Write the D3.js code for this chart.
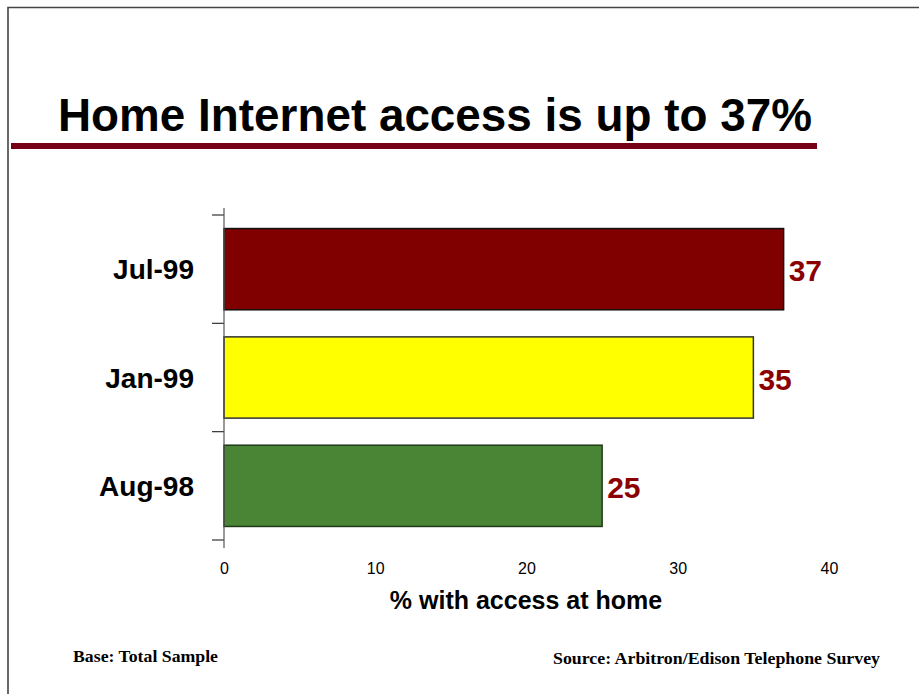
<!DOCTYPE html>
<html>
<head>
<meta charset="utf-8">
<script src="https://cdn.jsdelivr.net/npm/d3@7"></script>
<style>
  html, body { margin: 0; padding: 0; background: #fff; }
  svg { display: block; }
</style>
</head>
<body>
<svg id="chart" width="919" height="694"></svg>
<script>
// Survey periods, top to bottom as drawn
const categories = ["Jul-99", "Jan-99", "Aug-98"];
const values = [37, 35, 25];
const barColors = ["#800000", "#ffff00", "#4a8536"];
const barEdges = ["#111", "#333", "#1f3a16"];
const xTicks = [0, 10, 20, 30, 40];

const titleText = "Home Internet access is up to 37%";
const xAxisLabel = "% with access at home";
const baseNote = "Base: Total Sample";
const sourceNote = "Source: Arbitron/Edison Telephone Survey";

const sans = "Liberation Sans, Arial, sans-serif";
const serif = "Liberation Serif, Times New Roman, serif";

const svg = d3.select("#chart");

// Slide frame (top and left edges)
svg.append("path")
  .attr("d", "M8,694 V7.5 H919")
  .attr("fill", "none")
  .attr("stroke", "#444")
  .attr("stroke-width", 1.6);

// Title with its rule
svg.append("text")
  .attr("x", 58).attr("y", 131)
  .attr("font-family", sans)
  .attr("font-weight", "bold")
  .attr("font-size", 46)
  .attr("textLength", 754)
  .attr("lengthAdjust", "spacingAndGlyphs")
  .attr("fill", "#000")
  .text(titleText);

svg.append("rect")
  .attr("x", 11).attr("y", 143)
  .attr("width", 806).attr("height", 6)
  .attr("fill", "#780016");

// Scales
const x = d3.scaleLinear().domain([0, 40]).range([224, 829]);
const y = d3.scaleBand().domain(categories).range([215, 540]).paddingInner(0.25).paddingOuter(0.125);

// Bars
svg.append("g").selectAll("rect")
  .data(categories)
  .join("rect")
  .attr("x", x(0))
  .attr("y", d => y(d))
  .attr("width", (d, i) => x(values[i]) - x(0))
  .attr("height", y.bandwidth())
  .attr("fill", (d, i) => barColors[i])
  .attr("stroke", (d, i) => barEdges[i])
  .attr("stroke-width", 1.5);

// Value labels
svg.append("g").selectAll("text")
  .data(categories)
  .join("text")
  .attr("x", (d, i) => x(values[i]) + 5)
  .attr("y", d => y(d) + y.bandwidth() / 2 + 12)
  .attr("font-family", sans)
  .attr("font-weight", "bold")
  .attr("font-size", 30)
  .attr("fill", "#8b0000")
  .text((d, i) => values[i]);

// Category axis
const yAxis = d3.axisLeft(y).tickSize(0).tickPadding(30);
const gy = svg.append("g").attr("transform", `translate(${x(0)},0)`).call(yAxis);
gy.select(".domain").remove();
gy.selectAll("text")
  .attr("font-family", sans)
  .attr("font-weight", "bold")
  .attr("font-size", 28)
  .attr("dy", "0.36em")
  .attr("fill", "#000");

// Separator ticks between categories and the axis line
const sepTicks = [215, 540].concat(categories.slice(1).map(c => y(c) - y.step() * y.paddingInner() / 2));
svg.append("g").selectAll("line")
  .data(sepTicks)
  .join("line")
  .attr("x1", x(0) - 12).attr("x2", x(0))
  .attr("y1", d => d).attr("y2", d => d)
  .attr("stroke", "#333").attr("stroke-width", 1.2);
svg.append("line")
  .attr("x1", x(0)).attr("x2", x(0))
  .attr("y1", 208).attr("y2", 548)
  .attr("stroke", "#555").attr("stroke-width", 1.2);

// Value axis (labels only)
const xAxis = d3.axisBottom(x).tickValues(xTicks).tickSize(0).tickPadding(0);
const gx = svg.append("g").attr("transform", "translate(0,563)").call(xAxis);
gx.select(".domain").remove();
gx.selectAll("text")
  .attr("font-family", sans)
  .attr("font-size", 16)
  .attr("fill", "#000");

svg.append("text")
  .attr("x", 526).attr("y", 609)
  .attr("text-anchor", "middle")
  .attr("font-family", sans)
  .attr("font-weight", "bold")
  .attr("font-size", 25)
  .attr("fill", "#000")
  .text(xAxisLabel);

// Footnotes
svg.append("text")
  .attr("x", 73).attr("y", 662)
  .attr("font-family", serif)
  .attr("font-weight", "bold")
  .attr("font-size", 16)
  .attr("textLength", 145)
  .attr("lengthAdjust", "spacingAndGlyphs")
  .attr("fill", "#000")
  .text(baseNote);

svg.append("text")
  .attr("x", 553).attr("y", 664)
  .attr("font-family", serif)
  .attr("font-weight", "bold")
  .attr("font-size", 16)
  .attr("textLength", 327)
  .attr("lengthAdjust", "spacingAndGlyphs")
  .attr("fill", "#000")
  .text(sourceNote);
</script>
</body>
</html>
